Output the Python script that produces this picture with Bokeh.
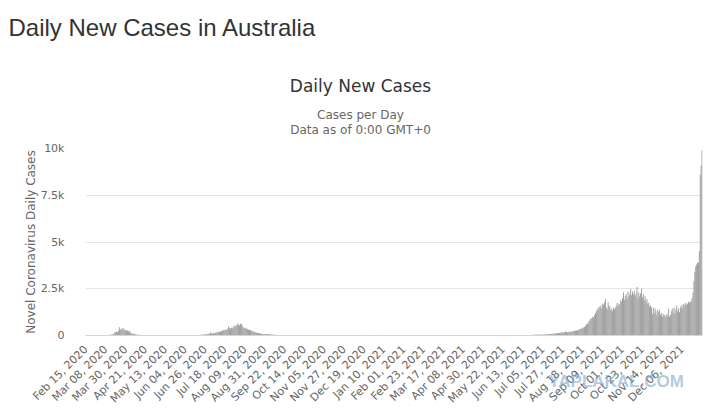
import math
import pandas as pd
from bokeh.plotting import figure
from bokeh.models import Range1d, FixedTicker, Label, Title, ColumnDataSource
from bokeh.embed import file_html
from bokeh.resources import INLINE

# ---------------- data (daily new cases, Australia) ----------------
start_date = "2020-02-15"

feb_2020 = [0, 0, 0, 0, 0, 2, 0, 0, 0, 0, 0, 0, 1, 0, 2]
mar_2020 = [3, 4, 8, 11, 5, 10, 9, 12, 16, 20, 25, 28, 45, 50, 60, 80, 110, 160, 190, 210,
            180, 260, 440, 310, 360, 290, 420, 360, 300, 250, 290]
apr_2020 = [260, 220, 270, 180, 120, 100, 90, 110, 80, 60, 50, 40, 30, 35, 40, 28, 25, 30, 20, 15,
            12, 16, 18, 14, 10, 12, 8, 10, 12, 9]
may_2020 = [12, 18, 9, 15, 20, 19, 14, 15, 21, 16, 18, 22, 16, 13, 10, 15, 14, 17, 12, 11,
            18, 9, 10, 12, 8, 10, 14, 12, 15, 18, 11]
jun_2020 = [10, 8, 12, 9, 7, 11, 13, 10, 15, 18, 20, 19, 16, 22, 18, 25, 20, 28, 33, 30,
            38, 42, 46, 50, 60, 55, 70, 80, 85, 90]
jul_2020 = [100, 180, 90, 110, 130, 120, 150, 180, 160, 170, 190, 220, 200, 260, 240, 300, 280, 300, 330, 290,
            380, 500, 400, 360, 420, 380, 450, 530, 440, 560, 520]
aug_2020 = [660, 580, 540, 620, 640, 520, 440, 400, 380, 420, 360, 340, 300, 320, 280, 260, 240, 220, 200, 190,
            170, 150, 140, 130, 120, 110, 100, 95, 80, 70, 75]
sep_2020 = [70, 90, 60, 75, 65, 60, 60, 45, 45, 40, 45, 35, 40, 30, 25, 30, 28, 25, 20, 18,
            15, 16, 20, 15, 17, 14, 12, 10, 18, 15]
oct_2020 = [14, 12, 9, 15, 11, 18, 13, 20, 16, 12, 14, 10, 9, 17, 15, 12, 13, 10, 8, 11,
            9, 14, 12, 10, 16, 11, 13, 9, 12, 10, 8]
nov_2020 = [9, 7, 12, 10, 8, 11, 6, 9, 10, 13, 8, 7, 12, 9, 11, 14, 17, 10, 12, 9,
            15, 13, 11, 8, 10, 9, 12, 14, 10, 11]
dec_2020 = [13, 9, 12, 10, 11, 14, 9, 12, 10, 8, 13, 11, 9, 10, 12, 18, 28, 35, 30, 32,
            25, 22, 20, 26, 15, 18, 20, 22, 24, 28, 30]
jan_2021 = [32, 35, 30, 26, 25, 22, 20, 18, 16, 15, 14, 12, 10, 11, 9, 8, 10, 12, 9, 8,
            7, 10, 9, 8, 11, 6, 9, 8, 7, 10, 9]
feb_2021 = [12, 10, 8, 9, 11, 7, 10, 9, 12, 15, 13, 18, 16, 10, 9, 8, 11, 7, 10, 9,
            8, 6, 10, 9, 7, 11, 8, 9]
mar_2021 = [10, 8, 9, 12, 7, 11, 9, 8, 10, 13, 9, 7, 11, 10, 12, 9, 8, 14, 10, 9,
            12, 11, 8, 10, 13, 15, 12, 18, 20, 16, 14]
apr_2021 = [18, 15, 12, 10, 13, 9, 11, 14, 12, 10, 8, 11, 13, 9, 12, 10, 14, 11, 9, 12,
            15, 13, 10, 14, 11, 9, 12, 10, 13, 11]
may_2021 = [12, 9, 11, 14, 10, 8, 12, 15, 9, 11, 13, 10, 12, 9, 14, 11, 10, 12, 15, 13,
            11, 9, 12, 14, 18, 22, 20, 17, 15, 19, 16]
jun_2021 = [14, 16, 12, 15, 13, 11, 10, 12, 9, 14, 11, 13, 10, 12, 15, 14, 18, 20, 22, 25,
            24, 28, 30, 35, 40, 38, 45, 42, 48, 44]
jul_2021 = [40, 45, 50, 42, 48, 55, 50, 60, 58, 65, 70, 75, 80, 90, 85, 100, 105, 110, 100, 120,
            125, 130, 140, 150, 160, 150, 170, 180, 190, 200, 210]
aug_2021 = [160, 190, 170, 210, 200, 230, 220, 250, 240, 270, 260, 290, 280, 330, 350, 380, 360, 410, 430, 460,
            520, 620, 600, 700, 760, 850, 880, 950, 1000, 980, 1100]
sep_2021 = [1200, 1300, 1450, 1380, 1550, 1500, 1600, 1450, 1700, 1650, 1780, 1950, 1500, 1400, 1780, 1600, 1550, 1350, 1450, 1300,
            1500, 1400, 1480, 1600, 1750, 1550, 1700, 1650, 1900, 1800]
oct_2021 = [2000, 2300, 1900, 2100, 2200, 1950, 2350, 2100, 2250, 2500, 2150, 2350, 2200, 2400, 2100, 2250, 2600, 2000, 2300, 2100,
            2250, 2500, 2050, 2200, 1900, 2100, 1800, 1950, 1700, 1750, 1550]
nov_2021 = [1600, 1500, 1150, 1500, 1200, 1450, 1300, 1050, 1400, 1250, 1350, 1100, 1200, 1000, 1150, 1050, 1100, 980, 1150, 1050,
            1420, 1000, 1100, 1300, 1450, 1200, 1500, 1150, 1400, 1600]
dec_2021 = [1300, 1450, 1250, 1500, 1600, 1450, 1650, 1700, 1600, 1750, 1650, 1700, 1800, 1750, 1800, 1850, 2000, 2300, 2900, 3400,
            3700, 3800, 3900, 3900, 4500, 8600, 9100, 9900]

tick_labels = ["Feb 15, 2020", "Mar 08, 2020", "Mar 30, 2020", "Apr 21, 2020", "May 13, 2020",
               "Jun 04, 2020", "Jun 26, 2020", "Jul 18, 2020", "Aug 09, 2020", "Aug 31, 2020",
               "Sep 22, 2020", "Oct 14, 2020", "Nov 05, 2020", "Nov 27, 2020", "Dec 19, 2020",
               "Jan 10, 2021", "Feb 01, 2021", "Feb 23, 2021", "Mar 17, 2021", "Apr 08, 2021",
               "Apr 30, 2021", "May 22, 2021", "Jun 13, 2021", "Jul 05, 2021", "Jul 27, 2021",
               "Aug 18, 2021", "Sep 09, 2021", "Oct 01, 2021", "Oct 23, 2021", "Nov 14, 2021",
               "Dec 06, 2021"]
y_ticks = [0, 2500, 5000, 7500, 10000]
y_tick_labels = ["0", "2.5k", "5k", "7.5k", "10k"]

page_title = "Daily New Cases in Australia"
chart_title = "Daily New Cases"
subtitle_1 = "Cases per Day"
subtitle_2 = "Data as of 0:00 GMT+0"
y_title = "Novel Coronavirus Daily Cases"
watermark = "YAPLAKAL.COM"

# ---------------- build ----------------
cases = (feb_2020 + mar_2020 + apr_2020 + may_2020 + jun_2020 + jul_2020 + aug_2020 + sep_2020 +
         oct_2020 + nov_2020 + dec_2020 + jan_2021 + feb_2021 + mar_2021 + apr_2021 + may_2021 +
         jun_2021 + jul_2021 + aug_2021 + sep_2021 + oct_2021 + nov_2021 + dec_2021)
dates = pd.date_range(start_date, periods=len(cases), freq="D")
date_str = [d.strftime("%b %d, %Y") for d in dates]
idx = list(range(len(cases)))
x_ticks = [date_str.index(t) for t in tick_labels]

src = ColumnDataSource(data=dict(x=idx, top=cases, date=date_str))

FRAME_W, FRAME_H = 617, 187
X_LO, X_HI = -0.5, len(cases) - 0.5
Y_LO, Y_HI = 0, 10000

p = figure(frame_width=FRAME_W, frame_height=FRAME_H,
           x_range=Range1d(X_LO, X_HI), y_range=Range1d(Y_LO, Y_HI),
           output_backend="svg", toolbar_location=None,
           min_border_left=85, min_border_right=5, min_border_top=148, min_border_bottom=60,
           background_fill_color="white", border_fill_color="white")
p.outline_line_color = None

p.vbar(x="x", top="top", width=1.0, source=src, fill_color="#999999", line_color=None)

p.xgrid.visible = False
p.ygrid.grid_line_color = "#e6e6e6"
p.ygrid.grid_line_width = 1

ya = p.yaxis[0]
ya.ticker = FixedTicker(ticks=y_ticks)
ya.major_label_overrides = dict(zip(y_ticks, y_tick_labels))
ya.axis_line_color = None
ya.major_tick_line_color = None
ya.minor_tick_line_color = None
ya.major_label_standoff = 15
ya.major_label_text_font = "DejaVu Sans"
ya.major_label_text_font_size = "11px"
ya.major_label_text_color = "#666666"
ya.axis_label = y_title
ya.axis_label_text_font = "DejaVu Sans"
ya.axis_label_text_font_size = "12px"
ya.axis_label_text_font_style = "normal"
ya.axis_label_text_color = "#666666"
ya.axis_label_standoff = 0

xa = p.xaxis[0]
xa.ticker = FixedTicker(ticks=x_ticks)
xa.major_label_overrides = {t: l for t, l in zip(x_ticks, tick_labels)}
xa.major_label_orientation = math.pi / 4
xa.axis_line_color = "#ccd6eb"
xa.axis_line_width = 1
xa.major_tick_line_color = None
xa.minor_tick_line_color = None
xa.major_label_standoff = 6
xa.major_label_text_font = "DejaVu Sans"
xa.major_label_text_font_size = "11px"
xa.major_label_text_color = "#666666"


def above_frame(dx, dy):
    """Position dx pixels right of the frame's left edge, dy pixels above its top edge."""
    return (X_LO + dx * (X_HI - X_LO) / FRAME_W,
            Y_HI + dy * (Y_HI - Y_LO) / FRAME_H)


def header(text, dx, dy, font, size, color, align):
    x, y = above_frame(dx, dy)
    p.add_layout(Label(x=x, y=y, text=text, text_font=font, text_font_size=size,
                       text_color=color, text_align=align, text_baseline="alphabetic"), "above")


header(page_title, -77, 121.4, "Liberation Sans", "24px", "#333333", "left")
header(chart_title, 275, 63, "DejaVu Sans", "17px", "#333333", "center")
header(subtitle_1, 275, 33.5, "DejaVu Sans", "12px", "#666666", "center")
header(subtitle_2, 275, 18.5, "DejaVu Sans", "12px", "#666666", "center")

# watermark of the source picture, over the lower right labels
p.add_layout(Title(text=watermark, align="left", offset=463, standoff=-82, vertical_align="top",
                   text_font="Liberation Sans", text_font_size="17px", text_font_style="bold",
                   text_color="#7fa7cc", text_alpha=0.6), "below")

open("out.html", "w").write(file_html(p, INLINE))
